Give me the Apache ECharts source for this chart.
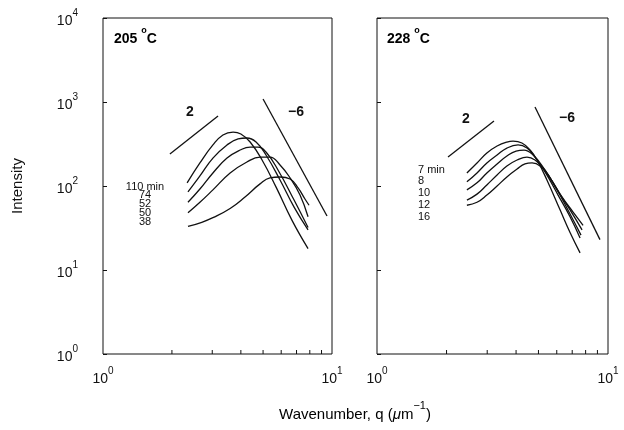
<!DOCTYPE html>
<html>
<head>
<meta charset="utf-8">
<script src="https://cdn.jsdelivr.net/npm/echarts@6/dist/echarts.min.js"></script>
<style>
html, body { margin: 0; padding: 0; background: #fff; }
#main { width: 624px; height: 430px; }
</style>
</head>
<body>
<div id="main"></div>
<script>
// 205 C panel, q in um^-1, intensity in a.u.
var q205_110 = [2.33, 2.65, 3.02, 3.34, 3.70, 4.00, 4.39, 4.95, 5.70, 6.69, 7.86];
var i205_110 = [109, 188, 308, 405, 439, 416, 334, 204, 97, 39, 18];
var q205_74 = [2.35, 2.65, 3.02, 3.48, 3.89, 4.25, 4.66, 5.15, 5.93, 6.83, 7.86];
var i205_74 = [85, 132, 215, 308, 363, 373, 334, 234, 118, 56, 30];
var q205_52 = [2.35, 2.65, 3.02, 3.48, 3.97, 4.39, 4.75, 5.15, 5.81, 6.83, 7.86];
var i205_52 = [64, 92, 143, 215, 268, 291, 291, 254, 155, 68, 32];
var q205_50 = [2.35, 2.65, 3.02, 3.59, 4.25, 4.85, 5.36, 5.93, 6.56, 7.25, 7.86];
var i205_50 = [48, 64, 90, 143, 193, 221, 221, 178, 125, 78, 43];
var q205_38 = [2.35, 2.70, 3.02, 3.59, 4.17, 4.85, 5.36, 5.93, 6.56, 7.11, 7.62, 7.94];
var i205_38 = [33, 37, 42, 54, 74, 106, 125, 128, 121, 95, 70, 59];

// 228 C panel
var q228_7 = [2.45, 2.71, 2.99, 3.31, 3.65, 3.88, 4.24, 4.60, 4.93, 5.44, 6.20, 6.85, 7.57];
var i228_7 = [143, 188, 247, 299, 334, 343, 325, 268, 204, 118, 52, 28, 16];
var q228_8 = [2.45, 2.71, 2.99, 3.31, 3.65, 4.08, 4.46, 4.83, 5.34, 6.08, 6.85, 7.57];
var i228_8 = [112, 143, 188, 234, 283, 308, 283, 221, 147, 78, 43, 24];
var q228_10 = [2.45, 2.71, 2.99, 3.31, 3.65, 4.00, 4.33, 4.74, 5.23, 5.96, 6.78, 7.64];
var i228_10 = [90, 109, 143, 183, 228, 261, 268, 234, 168, 95, 49, 26];
var q228_12 = [2.45, 2.71, 2.99, 3.31, 3.65, 4.04, 4.46, 4.83, 5.34, 6.02, 6.85, 7.72];
var i228_12 = [68, 80, 103, 135, 173, 204, 221, 204, 155, 90, 52, 30];
var q228_16 = [2.45, 2.71, 2.99, 3.31, 3.65, 4.04, 4.37, 4.69, 5.08, 5.61, 6.32, 7.06, 7.80];
var i228_16 = [59, 64, 78, 100, 128, 159, 183, 188, 173, 125, 74, 49, 34];

// slope guide lines (2 and -6)
var slope2Q_205 = [1.96, 3.18], slope2I_205 = [240, 681];
var slope6Q_205 = [5.00, 9.51], slope6I_205 = [1086, 44];
var slope2Q_228 = [2.03, 3.21], slope2I_228 = [221, 594];
var slope6Q_228 = [4.83, 9.23], slope6I_228 = [872, 23];

var minorQ = [2, 3, 4, 5, 6, 7, 8, 9];
var labels205 = ['110 min', '74', '52', '50', '38'];
var labels228 = ['7 min', '8', '10', '12', '16'];

var FONT = '"Liberation Sans", Arial, sans-serif';
var INK = '#111';

function pairs(xs, ys) {
    return xs.map(function (x, k) { return [x, ys[k]]; });
}

function curve(name, xs, ys, panel) {
    return {
        name: name, type: 'line', xAxisIndex: panel, yAxisIndex: panel,
        data: pairs(xs, ys), showSymbol: false, smooth: 0.45, silent: true,
        lineStyle: { color: INK, width: 1.3 }
    };
}

function minorTicks(panel) {
    return {
        type: 'custom', xAxisIndex: panel, yAxisIndex: panel, silent: true,
        data: minorQ.map(function (v) { return [v, 1]; }),
        renderItem: function (params, api) {
            var p = api.coord([api.value(0), api.value(1)]);
            return {
                type: 'line',
                shape: { x1: p[0], y1: p[1], x2: p[0], y2: p[1] - 4 },
                style: { stroke: INK, lineWidth: 1 }
            };
        }
    };
}

var powRich = {
    b: { fontSize: 14, fontFamily: FONT, color: INK, lineHeight: 20, verticalAlign: 'bottom' },
    s: { fontSize: 10, fontFamily: FONT, color: INK, lineHeight: 8, verticalAlign: 'top' }
};
function powLabel(v) {
    return '{b|10}{s|' + Math.round(Math.log10(v)) + '}';
}

function xAxis(panel) {
    return {
        type: 'log', logBase: 10, min: 1, max: 10, gridIndex: panel,
        axisLine: { show: false }, axisTick: { show: false }, splitLine: { show: false },
        axisLabel: { margin: 12, formatter: powLabel, rich: powRich }
    };
}
function yAxis(panel) {
    return {
        type: 'log', logBase: 10, min: 1, max: 10000, gridIndex: panel,
        axisLine: { show: false }, splitLine: { show: false },
        axisTick: { show: true, inside: true, length: 4, lineStyle: { color: INK } },
        axisLabel: { show: panel === 0, margin: 25, formatter: powLabel, rich: powRich },
        name: panel === 0 ? 'Intensity' : '',
        nameLocation: 'middle', nameGap: 78, nameRotate: 90,
        nameTextStyle: { fontSize: 15, fontFamily: FONT, color: INK }
    };
}

function txt(x, y, text, size, weight, align) {
    return {
        type: 'text', x: x, y: y, silent: true,
        style: {
            text: text, fill: INK, font: (weight || 'normal') + ' ' + size + 'px ' + FONT,
            align: align || 'left', verticalAlign: 'middle'
        }
    };
}

function tempLabel(x, y, t) {
    return {
        type: 'text', x: x, y: y, silent: true,
        style: {
            text: '{n|' + t + ' }{o|o}{n|C}', verticalAlign: 'middle',
            rich: {
                n: { fontSize: 14, fontWeight: 'bold', fontFamily: FONT, color: INK, lineHeight: 20, verticalAlign: 'bottom' },
                o: { fontSize: 9, fontWeight: 'bold', fontFamily: FONT, color: INK, lineHeight: 8, verticalAlign: 'top' }
            }
        }
    };
}

var graphics = [
    tempLabel(114, 36, '205'),
    tempLabel(387, 36, '228'),
    txt(190, 112, '2', 14, 'bold', 'center'),
    txt(296, 112, '\u22126', 14, 'bold', 'center'),
    txt(466, 119, '2', 14, 'bold', 'center'),
    txt(567, 118, '\u22126', 14, 'bold', 'center'),
    {
        type: 'text', x: 355, y: 411, silent: true,
        style: {
            text: '{n|Wavenumber, q (}{mu|\u03bc}{n|m}{s|\u22121}{n|)}', align: 'center', verticalAlign: 'middle',
            rich: {
                n: { fontSize: 15, fontFamily: FONT, color: INK, lineHeight: 22, verticalAlign: 'bottom' },
                mu: { fontSize: 15, fontStyle: 'italic', fontFamily: FONT, color: INK, lineHeight: 22, verticalAlign: 'bottom' },
                s: { fontSize: 11, fontFamily: FONT, color: INK, lineHeight: 10, verticalAlign: 'top' }
            }
        }
    }
];
var y205 = [187, 195, 204, 213, 222];
labels205.forEach(function (t, k) { graphics.push(txt(145, y205[k], t, 11, 'normal', 'center')); });
var y228 = [170, 181, 193, 205, 217];
labels228.forEach(function (t, k) { graphics.push(txt(418, y228[k], t, 11, 'normal', 'left')); });

var series = [
    curve('110 min', q205_110, i205_110, 0),
    curve('74', q205_74, i205_74, 0),
    curve('52', q205_52, i205_52, 0),
    curve('50', q205_50, i205_50, 0),
    curve('38', q205_38, i205_38, 0),
    curve('slope 2', slope2Q_205, slope2I_205, 0),
    curve('slope -6', slope6Q_205, slope6I_205, 0),
    curve('7 min', q228_7, i228_7, 1),
    curve('8', q228_8, i228_8, 1),
    curve('10', q228_10, i228_10, 1),
    curve('12', q228_12, i228_12, 1),
    curve('16', q228_16, i228_16, 1),
    curve('slope 2', slope2Q_228, slope2I_228, 1),
    curve('slope -6', slope6Q_228, slope6I_228, 1),
    minorTicks(0),
    minorTicks(1)
];

var chart = echarts.init(document.getElementById('main'), null, { renderer: 'canvas' });
chart.setOption({
    animation: false,
    backgroundColor: '#fff',
    grid: [
        { left: 103, top: 18, width: 229, height: 336, show: true, borderColor: INK, borderWidth: 1 },
        { left: 377, top: 18, width: 231, height: 336, show: true, borderColor: INK, borderWidth: 1 }
    ],
    xAxis: [xAxis(0), xAxis(1)],
    yAxis: [yAxis(0), yAxis(1)],
    series: series,
    graphic: graphics
});
</script>
</body>
</html>
